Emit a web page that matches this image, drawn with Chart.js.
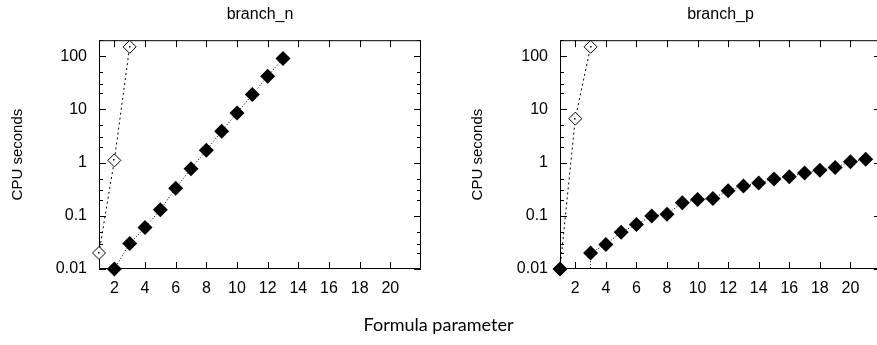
<!DOCTYPE html>
<html>
<head>
<meta charset="utf-8">
<script src="https://cdn.jsdelivr.net/npm/chart.js@4"></script>
<style>
  html, body { margin: 0; padding: 0; background: #fff; overflow: hidden; }
  #page { position: relative; width: 877px; height: 345px; overflow: hidden; }
  .panel { position: absolute; top: 0; }
  #xlabel {
    position: absolute; left: 0; width: 877px; top: 313px;
    text-align: center; font: 18px Lato, sans-serif; color: #000;
  }
</style>
</head>
<body>
<div id="page">
  <div class="panel" style="left:0"><canvas id="chart-n" width="440" height="345"></canvas></div>
  <div class="panel" style="left:440px"><canvas id="chart-p" width="460" height="345"></canvas></div>
  <div id="xlabel">Formula parameter</div>
</div>
<script>
// ---- Data ----------------------------------------------------
var xTicks = [2, 4, 6, 8, 10, 12, 14, 16, 18, 20];
var yTicks = [0.01, 0.1, 1, 10, 100];
var yTickLabels = ['0.01', '0.1', '1', '10', '100'];
var yMinorSteps = [2, 3, 5];

// branch_n
var nOpenX = [1, 2, 3];
var nOpenY = [0.02, 1.1, 150];
var nFilledX = [2, 3, 4, 5, 6, 7, 8, 9, 10, 11, 12, 13];
var nFilledY = [0.01, 0.03, 0.06, 0.13, 0.33, 0.77, 1.7, 3.9, 8.6, 19, 42, 91];

// branch_p
var pOpenX = [1, 2, 3];
var pOpenY = [0.01, 6.7, 150];
var pFilledX = [1, 2, 3, 4, 5, 6, 7, 8, 9, 10, 11, 12, 13, 14, 15, 16, 17, 18, 19, 20, 21];
var pFilledY = [0.01, null, 0.02, 0.029, 0.049, 0.069, 0.099, 0.107, 0.176, 0.203, 0.212,
                0.296, 0.363, 0.413, 0.492, 0.544, 0.638, 0.717, 0.805, 1.04, 1.16];
// drop to the axis under the x=3 point (value below the axis range)
var pDropX = [3, 3];
var pDropY = [0.001, 0.02];

var FONT = "'Liberation Sans', Arial, sans-serif";

function pts(xs, ys) {
  return xs.map(function (x, i) { return { x: x, y: ys[i] }; });
}

// ---- Frame with inward ticks on all four sides --------------
var frameTicks = {
  id: 'frameTicks',
  beforeDatasetsDraw: function (chart) {
    var a = chart.chartArea, ctx = chart.ctx;
    var xs = chart.scales.x, ys = chart.scales.y;
    ctx.save();
    ctx.strokeStyle = '#000';
    ctx.lineWidth = 1;
    ctx.beginPath();
    ctx.rect(a.left + 0.5, a.top + 0.5, a.right - a.left - 1, a.bottom - a.top - 1);
    xTicks.forEach(function (v) {
      var px = Math.round(xs.getPixelForValue(v)) + 0.5;
      ctx.moveTo(px, a.bottom); ctx.lineTo(px, a.bottom - 7);
      ctx.moveTo(px, a.top); ctx.lineTo(px, a.top + 7);
    });
    yTicks.forEach(function (v) {
      var py = Math.round(ys.getPixelForValue(v)) + 0.5;
      ctx.moveTo(a.left, py); ctx.lineTo(a.left + 7, py);
      ctx.moveTo(a.right, py); ctx.lineTo(a.right - 7, py);
      yMinorSteps.forEach(function (m) {
        var mv = v * m;
        if (mv > ys.max) return;
        var my = Math.round(ys.getPixelForValue(mv)) + 0.5;
        ctx.moveTo(a.left, my); ctx.lineTo(a.left + 4, my);
        ctx.moveTo(a.right, my); ctx.lineTo(a.right - 4, my);
      });
    });
    ctx.stroke();
    ctx.restore();
  },
  // small dot in the centre of the open diamonds
  afterDatasetsDraw: function (chart) {
    var ctx = chart.ctx;
    ctx.save();
    ctx.fillStyle = '#000';
    chart.data.datasets.forEach(function (ds, i) {
      if (!ds.centerDot) return;
      chart.getDatasetMeta(i).data.forEach(function (el) {
        if (el.skip) return;
        ctx.fillRect(Math.round(el.x) - 1, Math.round(el.y) - 1, 1.5, 1.5);
      });
    });
    ctx.restore();
  }
};

function makeChart(canvasId, title, axisWidth, titlePad, datasets) {
  return new Chart(document.getElementById(canvasId), {
    type: 'line',
    data: { datasets: datasets },
    plugins: [frameTicks],
    options: {
      responsive: false,
      devicePixelRatio: 1,
      animation: false,
      events: [],
      layout: { padding: { left: 0, right: 19, top: 0, bottom: 0 } },
      plugins: {
        legend: { display: false },
        tooltip: { enabled: false },
        title: {
          display: true,
          text: title,
          fullSize: false,
          color: '#000',
          font: { family: FONT, size: 16, weight: 'normal' },
          padding: { top: 5, bottom: 16 }
        }
      },
      scales: {
        x: {
          type: 'linear',
          min: 1,
          max: 22,
          grid: { display: false, drawTicks: false },
          border: { display: false },
          afterBuildTicks: function (scale) {
            scale.ticks = xTicks.map(function (v) { return { value: v }; });
          },
          afterFit: function (scale) { scale.height = 76; },
          ticks: {
            color: '#000',
            padding: 10,
            maxRotation: 0,
            autoSkip: false,
            font: { family: FONT, size: 16 }
          }
        },
        y: {
          type: 'logarithmic',
          min: 0.01,
          max: 200,
          grid: { display: false, drawTicks: false },
          border: { display: false },
          afterBuildTicks: function (scale) {
            scale.ticks = yTicks.map(function (v) { return { value: v }; });
          },
          afterFit: function (scale) { scale.width = axisWidth; },
          ticks: {
            color: '#000',
            padding: 12,
            autoSkip: false,
            font: { family: FONT, size: 16 },
            callback: function (value) {
              var i = yTicks.indexOf(value);
              return i >= 0 ? yTickLabels[i] : '';
            }
          },
          title: {
            display: true,
            text: 'CPU seconds',
            color: '#000',
            font: { family: FONT, size: 15 },
            padding: { top: titlePad, bottom: 0 }
          }
        }
      }
    }
  });
}

function openSeries(xs, ys) {
  return {
    label: 'open',
    data: pts(xs, ys),
    borderColor: '#000',
    borderWidth: 1,
    borderDash: [2, 3],
    backgroundColor: '#fff',
    pointStyle: 'rectRot',
    pointRadius: 6.5,
    pointBorderWidth: 1,
    pointBorderColor: '#000',
    pointBackgroundColor: '#fff',
    centerDot: true,
    clip: false,
    order: 1
  };
}

function filledSeries(xs, ys) {
  return {
    label: 'filled',
    data: pts(xs, ys),
    borderColor: '#000',
    borderWidth: 1,
    borderDash: [1, 2],
    spanGaps: false,
    pointStyle: 'rectRot',
    pointRadius: 7.5,
    pointBorderWidth: 0,
    pointBackgroundColor: '#000',
    clip: false,
    order: 0
  };
}

makeChart('chart-n', 'branch_n', 99, 9, [
  openSeries(nOpenX, nOpenY),
  filledSeries(nFilledX, nFilledY)
]);

makeChart('chart-p', 'branch_p', 120, 29, [
  openSeries(pOpenX, pOpenY),
  {
    label: 'drop',
    data: pts(pDropX, pDropY),
    borderColor: '#000',
    borderWidth: 1,
    borderDash: [1, 2],
    pointRadius: 0,
    clip: 0,
    order: 2
  },
  filledSeries(pFilledX, pFilledY)
]);
</script>
</body>
</html>
